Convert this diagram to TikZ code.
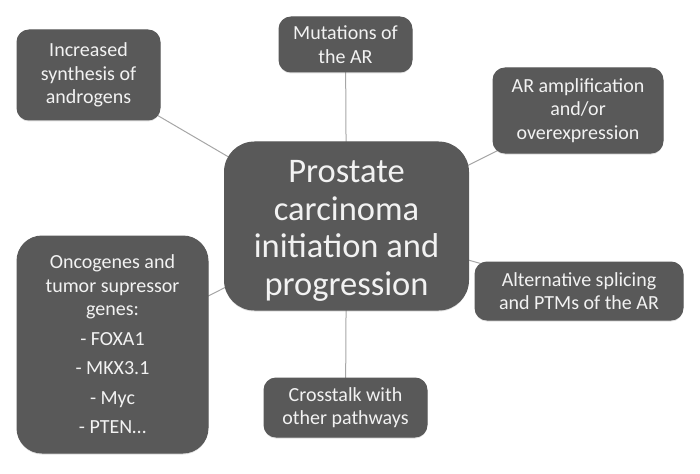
\documentclass[tikz,border=0pt]{standalone}
\usepackage{fontspec}
\setmainfont{Carlito}
\usetikzlibrary{shadows, backgrounds}
\definecolor{cbox}{HTML}{595959}
\definecolor{ctext}{HTML}{F2F2F2}
\definecolor{cline}{HTML}{A6A6A6}
\tikzset{
  every picture/.style={line width=1pt},
  cause/.style={draw=cbox, fill=cbox, text=ctext, rounded corners=12pt, align=center,
    inner sep=2pt, font=\fontsize{20}{23.5}\selectfont,
    drop shadow={opacity=0.25, shadow xshift=0pt, shadow yshift=-1.5pt}},
  core/.style={cause, rounded corners=30pt, font=\fontsize{34.5}{37.5}\selectfont},
  link/.style={draw=cline, line width=1pt},
}

\begin{document}
\begin{tikzpicture}[x=1pt, y=-1pt]
  \useasboundingbox (0,0) rectangle (700,473);
  \node[core, minimum width=243pt, minimum height=168pt] (main) at (346.5,226)
    {\raisebox{-5pt}[\height][\depth]{\parbox{240pt}{\centering Prostate\\carcinoma\\initiation and\\progression}}};
  \node[cause, minimum width=143pt, minimum height=90pt] (synth) at (88.5,75)
    {Increased\\synthesis of\\androgens};
  \node[cause, minimum width=133pt, minimum height=55pt] (mut) at (345.5,44.5)
    {Mutations of\\the AR};
  \node[cause, minimum width=170pt, minimum height=85pt] (amp) at (578,110.5)
    {AR amplification\\and/or\\overexpression};
  \node[cause, minimum width=208pt, minimum height=58pt] (splice) at (579,291)
    {Alternative splicing\\and PTMs of the AR};
  \node[cause, minimum width=163pt, minimum height=59pt] (cross) at (345.5,407.5)
    {Crosstalk with\\other pathways};
  \node[cause, rounded corners=25pt, minimum width=191pt, minimum height=217pt] (onco) at (112.5,344.5)
    {Oncogenes and\\tumor supressor\\genes:\\[6pt]- FOXA1\\[6pt]- MKX3.1\\[6pt]- Myc\\[6pt]- PTEN…};
  \begin{scope}[on background layer]
    \foreach \n in {synth, mut, amp, splice, cross, onco}
      \draw[link] (main.center) -- (\n.center);
  \end{scope}
\end{tikzpicture}
\end{document}
